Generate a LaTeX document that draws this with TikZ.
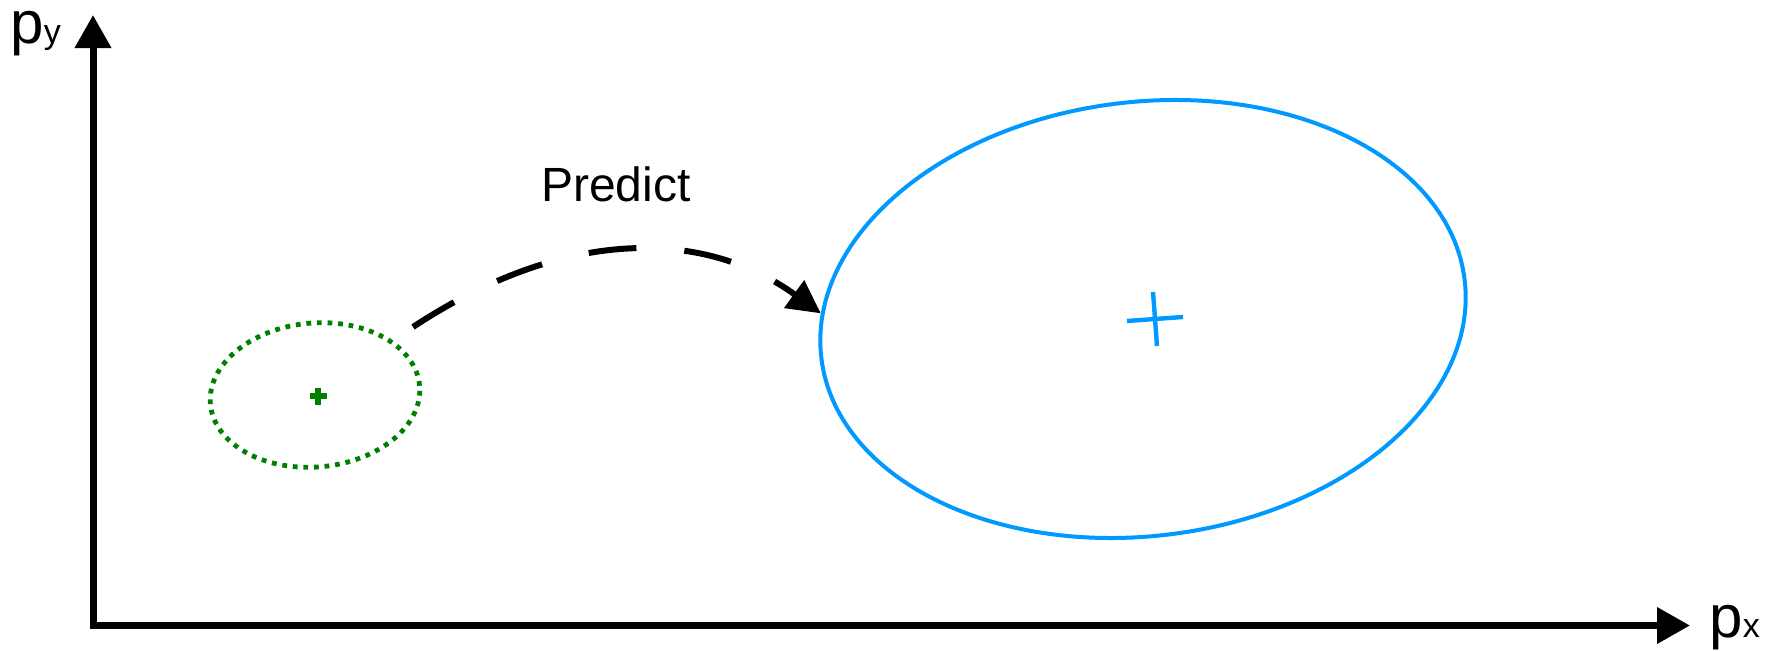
\documentclass[tikz,border=0pt]{standalone}
\usepackage{fontspec}
\setmainfont{Liberation Sans}
\usetikzlibrary{arrows.meta,shapes.geometric}
\definecolor{priorgreen}{RGB}{0,128,0}
\definecolor{predblue}{RGB}{0,153,255}

\begin{document}
\begin{tikzpicture}[x=0.5pt,y=0.5pt,
  axistip/.tip={Triangle[length=16.5pt,width=17.5pt]},
  lbl/.style={anchor=base west,inner sep=0pt}]
\useasboundingbox (0,0) rectangle (1773,650);
% axes
\coordinate (o) at (93,24.5);
\coordinate (ytip) at (93,635);
\coordinate (xtip) at (1690,24.5);
\draw[line width=3.5pt,line join=miter,axistip-axistip] (ytip) -- (o) -- (xtip);
\node[lbl] (ylab) at (10,607) {\fontsize{30}{30}\selectfont p\fontsize{17}{17}\selectfont y};
\node[lbl] (xlab) at (1709,13) {\fontsize{30}{30}\selectfont p\fontsize{17}{17}\selectfont x};
% current state (dotted) and its mean
\coordinate (pc) at (318,254);
\node[draw=priorgreen,ellipse,line width=2.4pt,dash pattern=on 2.4pt off 2.9pt,
  minimum width=105pt,minimum height=72pt,inner sep=0pt,rotate=5] (prior) at (315,255) {};
\draw[priorgreen,line width=2.8pt] (pc) +(-8.5,0) -- +(8.5,0) (pc) +(0,-8.5) -- +(0,8.5);
% predicted state and its mean
\coordinate (qc) at (1155,331);
\node[draw=predblue,ellipse,line width=2pt,minimum width=324pt,minimum height=217pt,
  inner sep=0pt,rotate=7] (pred) at (1143,331) {};
\draw[predblue,line width=2.2pt] (qc) +(-28,-2) -- +(28,2) (qc) +(-2,27) -- +(2,-27);
% prediction step
\coordinate (src) at (413,323);
\draw[line width=3pt,dash pattern=on 24pt off 24pt,-{Triangle[length=16.5pt,width=16.5pt]}]
  (src) .. controls (560,420) and (700,424) .. (pred.172);
\node[anchor=base,inner sep=0pt] (step) at (616,449) {\fontsize{24}{24}\selectfont Predict};
\end{tikzpicture}
\end{document}
